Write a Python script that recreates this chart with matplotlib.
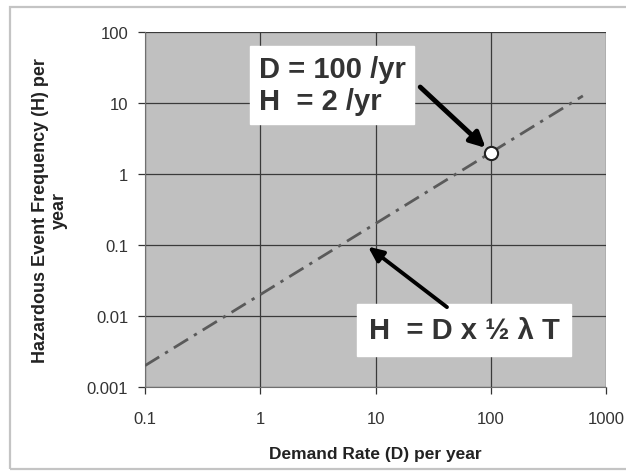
import matplotlib
matplotlib.use("Agg")
import matplotlib.pyplot as plt
from matplotlib.patches import Rectangle

# Data
demand = [0.1, 630]
hazard = [0.002, 12.6]
point_d = [100]
point_h = [2]
x_ticks = [0.1, 1, 10, 100, 1000]
x_labels = ["0.1", "1", "10", "100", "1000"]
y_ticks = [0.001, 0.01, 0.1, 1, 10, 100]
y_labels = ["0.001", "0.01", "0.1", "1", "10", "100"]

plt.rcParams['font.family'] = ['Liberation Sans', 'DejaVu Sans']

fig = plt.figure(figsize=(6.26, 4.77), dpi=100)
fig.patch.set_facecolor('white')
# outer chart-area frame
fig.patches.append(Rectangle((10/626, 1-470/477), 640/626, 462/477, transform=fig.transFigure,
                             fill=False, edgecolor='#c4c4c4', linewidth=1.6))

ax = fig.add_axes([145/626, 1-388/477, 461/626, 355/477])
ax.set_facecolor('#c0c0c0')
ax.set_xscale('log')
ax.set_yscale('log')
ax.set_xlim(0.1, 1000)
ax.set_ylim(0.001, 100)

ax.grid(True, which='major', color='#3a3a3a', linewidth=0.9)
ax.minorticks_off()
ax.set_xticks(x_ticks)
ax.set_xticklabels(x_labels)
ax.set_yticks(y_ticks)
ax.set_yticklabels(y_labels)
ax.tick_params(axis='both', labelsize=12, colors='#333333', length=5, width=0.9)
ax.tick_params(axis='x', pad=12)
ax.tick_params(axis='y', pad=7)
for s in ['top', 'right']:
    ax.spines[s].set_visible(False)
for s in ['left', 'bottom']:
    ax.spines[s].set_color('#707070')

ax.plot(demand, hazard, color='#5a5a5a', linewidth=2.0,
        dashes=[6, 2.5, 1.2, 2.5], zorder=3)
ax.plot(point_d, point_h, 'o', markersize=9.5, markerfacecolor='white',
        markeredgecolor='#222222', markeredgewidth=1.5, zorder=5)

ax.set_xlabel("Demand Rate (D) per year", fontsize=12.5, fontweight='bold',
              color='#222222', va='top')
ax.xaxis.set_label_coords(0.5, -0.166)
ax.set_ylabel("Hazardous Event Frequency (H) per\nyear", fontsize=13,
              fontweight='bold', color='#222222', linespacing=1.15)
ax.yaxis.set_label_coords(-0.167, 0.5)

ax.text(0.406, 0.851, "D = 100 /yr\nH  = 2 /yr", transform=ax.transAxes,
        fontsize=21, fontweight='bold', color='#333333', ha='center', va='center',
        multialignment='left', linespacing=1.2, zorder=6,
        bbox=dict(boxstyle='square,pad=0.3', facecolor='white', edgecolor='white'))
ax.text(0.692, 0.161, "H  = D x ½ λ T", transform=ax.transAxes,
        fontsize=21, fontweight='bold', color='#333333', ha='center', va='center',
        zorder=6,
        bbox=dict(boxstyle='square,pad=0.4', facecolor='white', edgecolor='white'))

ax.annotate("", xy=(100, 2), xytext=(0.597, 0.845), textcoords='axes fraction',
            arrowprops=dict(arrowstyle='-|>,head_length=0.9,head_width=0.45',
                            color='black', lw=3.5, shrinkA=0, shrinkB=5), zorder=7)
ax.annotate("", xy=(8.6, 0.095), xytext=(0.655, 0.225), textcoords='axes fraction',
            arrowprops=dict(arrowstyle='-|>,head_length=0.9,head_width=0.4',
                            color='black', lw=2.8, shrinkA=0, shrinkB=0), zorder=7)

fig.savefig("out.png", dpi=100)
